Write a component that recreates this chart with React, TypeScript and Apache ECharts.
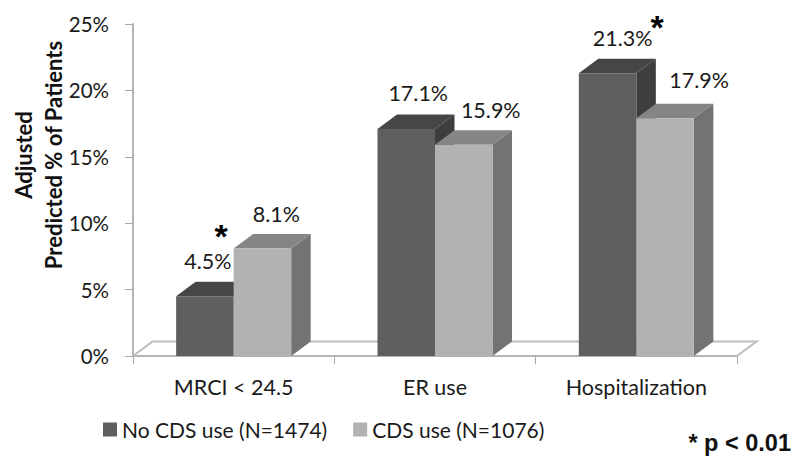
import React, { useEffect, useRef } from "react";
import * as echarts from "echarts";

const categories = ["MRCI < 24.5", "ER use", "Hospitalization"];
const noCdsName = "No CDS use (N=1474)";
const cdsName = "CDS use (N=1076)";
const noCdsValues = [4.5, 17.1, 21.3];
const cdsValues = [8.1, 15.9, 17.9];
const yTicks = { min: 0, max: 25, interval: 5 };
const yTitle = "Adjusted\nPredicted % of Patients";
const footnote = "* p < 0.01";

// hand-placed label nudges from the top-front of each bar: [dx, dy] in px
const noCdsNudge = [[3, -35], [12, -36], [15, -35]];
const cdsNudge = [[14, -34], [27, -35], [34, -38]];

const FONT = "Lato, Carlito, Calibri, sans-serif";
const DX = 19.5;
const DY = 14.5;
const BAR_RATIO = 0.2857;

function barRenderer(side: -1 | 1, colors: { front: string; top: string; right: string }, values: number[], nudges: number[][]) {
  return (params: any, api: any) => {
    const idx = params.dataIndex;
    const cat = api.value(0);
    const val = api.value(1);
    const band = api.size([1, 0])[0];
    const w = band * BAR_RATIO;
    const top = api.coord([cat, val]);
    const base = api.coord([cat, 0]);
    const x0 = side < 0 ? top[0] - w : top[0];
    const x1 = x0 + w;
    const yT = top[1];
    const yB = base[1];
    const poly = (points: number[][], fill: string) => ({
      type: "polygon",
      shape: { points },
      style: { fill, stroke: null },
    });
    return {
      type: "group",
      children: [
        poly([[x1, yB], [x1 + DX, yB - DY], [x1 + DX, yT - DY], [x1, yT]], colors.right),
        poly([[x0, yT], [x0 + DX, yT - DY], [x1 + DX, yT - DY], [x1, yT]], colors.top),
        poly([[x0, yB], [x1, yB], [x1, yT], [x0, yT]], colors.front),
        {
          type: "text",
          style: {
            text: values[idx].toFixed(1) + "%",
            x: (x0 + x1) / 2 + nudges[idx][0],
            y: yT + nudges[idx][1],
            fill: "#1a1a1a",
            font: `21.5px ${FONT}`,
            textAlign: "center",
            textVerticalAlign: "middle",
          },
        },
      ],
    };
  };
}

function floorRenderer(_params: any, api: any) {
  const band = api.size([1, 0])[0];
  const left = api.coord([0, 0])[0] - band / 2;
  const right = api.coord([categories.length - 1, 0])[0] + band / 2;
  const y = api.coord([0, 0])[1];
  return {
    type: "polyline",
    shape: { points: [[left, y], [left + DX, y - DY], [right + DX, y - DY], [right, y]] },
    style: { fill: "none", stroke: "#bdbdbd", lineWidth: 2 },
  };
}

export default function App() {
  const ref = useRef<HTMLDivElement>(null);
  useEffect(() => {
    if (!ref.current) return;
    const chart = echarts.init(ref.current, undefined, { renderer: "svg" });
    chart.setOption({
      animation: false,
      backgroundColor: "#ffffff",
      grid: { left: 133, right: 63, top: 24, bottom: 117, containLabel: false, outerBoundsMode: "none" },
      legend: {
        data: [noCdsName, cdsName],
        left: 98,
        top: 414,
        icon: "rect",
        itemWidth: 14,
        itemHeight: 14,
        itemGap: 26,
        textStyle: { fontFamily: FONT, fontSize: 21, color: "#1a1a1a" },
      },
      xAxis: {
        type: "category",
        data: categories,
        axisLine: { lineStyle: { color: "#b5b5b5", width: 2 } },
        axisTick: { show: true, alignWithLabel: false, length: 8, lineStyle: { color: "#a8a8a8", width: 1 } },
        axisLabel: { fontFamily: FONT, fontSize: 21.5, color: "#1a1a1a", margin: 20 },
      },
      yAxis: {
        type: "value",
        ...yTicks,
        name: yTitle,
        nameLocation: "middle",
        nameRotate: 90,
        nameGap: 65,
        nameMoveOverlap: false,
        nameTextStyle: {
          fontFamily: FONT,
          fontSize: 22,
          fontWeight: "bold",
          color: "#111111",
          lineHeight: 30,
          padding: [0, 0, 0, 70],
        },
        axisLine: { show: true, lineStyle: { color: "#b5b5b5", width: 2 } },
        axisTick: { show: true, length: 8, lineStyle: { color: "#a8a8a8", width: 1 } },
        axisLabel: { formatter: "{value}%", fontFamily: FONT, fontSize: 20.5, color: "#1a1a1a", margin: 24 },
        splitLine: { show: false },
      },
      series: [
        {
          name: "floor",
          type: "custom",
          silent: true,
          renderItem: floorRenderer,
          encode: { x: 0, y: 1 },
          data: [[0, 0]],
          z: 1,
        },
        {
          name: noCdsName,
          type: "custom",
          itemStyle: { color: "#5f5f5f" },
          renderItem: barRenderer(-1, { front: "#5f5f5f", top: "#464646", right: "#3e3e3e" }, noCdsValues, noCdsNudge),
          encode: { x: 0, y: 1 },
          data: noCdsValues.map((v, i) => [i, v]),
          z: 2,
        },
        {
          name: cdsName,
          type: "custom",
          itemStyle: { color: "#b2b2b2" },
          renderItem: barRenderer(1, { front: "#b2b2b2", top: "#858585", right: "#737373" }, cdsValues, cdsNudge),
          encode: { x: 0, y: 1 },
          data: cdsValues.map((v, i) => [i, v]),
          z: 3,
        },
      ],
      graphic: [
        {
          type: "text",
          x: 221,
          y: 236,
          z: 10,
          style: { text: "*", fill: "#000", font: "bold 34px 'Liberation Sans', Arial, sans-serif", lineHeight: 14, textAlign: "center", textVerticalAlign: "middle" },
        },
        {
          type: "text",
          x: 657,
          y: 27,
          z: 10,
          style: { text: "*", fill: "#000", font: "bold 34px 'Liberation Sans', Arial, sans-serif", lineHeight: 14, textAlign: "center", textVerticalAlign: "middle" },
        },
        {
          type: "text",
          x: 791,
          y: 443,
          z: 10,
          style: { text: footnote, fill: "#111", font: "bold 23.5px 'Liberation Sans', Arial, sans-serif", textAlign: "right", textVerticalAlign: "middle" },
        },
      ],
    });
    return () => chart.dispose();
  }, []);
  return (
    <div style={{ position: "fixed", left: 0, top: 0, width: 800, height: 473 }}>
      <div ref={ref} style={{ width: 800, height: 473 }} />
    </div>
  );
}
